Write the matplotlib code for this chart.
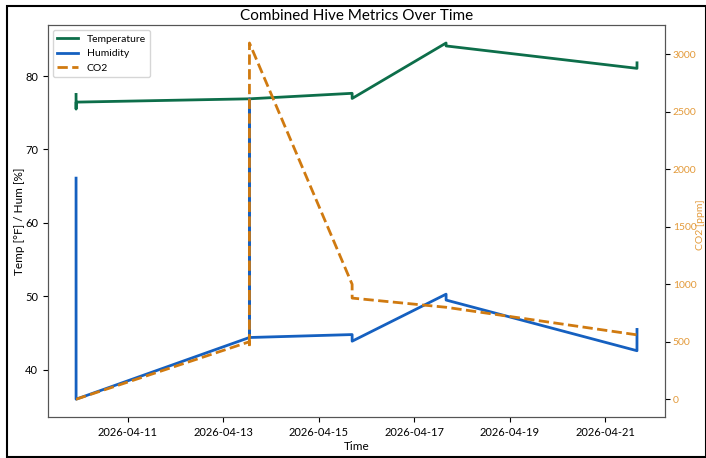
import numpy as np
import pandas as pd
import matplotlib
matplotlib.use("Agg")
import matplotlib.pyplot as plt
from matplotlib.patches import Rectangle

plt.rcParams['font.family'] = ['Lato', 'DejaVu Sans']

# readings (several rows logged within a few minutes of each other)
times = pd.to_datetime([
    "2026-04-09 22:00", "2026-04-09 22:01", "2026-04-09 22:02",
    "2026-04-13 13:10", "2026-04-13 13:11", "2026-04-13 13:12",
    "2026-04-15 16:50", "2026-04-15 16:51",
    "2026-04-17 16:05", "2026-04-17 16:06",
    "2026-04-21 16:05", "2026-04-21 16:06",
])
temperature = [77.5, 75.5, 76.45, 76.9, 76.9, 76.9, 77.65, 76.95, 84.5, 84.1, 81.05, 81.8]
humidity = [66.1, 36.0, 36.0, 44.4, 76.9, 44.4, 44.8, 43.9, 50.3, 49.5, 42.6, 45.5]
co2 = [0, 0, 0, 500, 450, 3100, 1000, 880, 800, 800, 560, 560]
date_ticks = ["2026-04-11", "2026-04-13", "2026-04-15", "2026-04-17", "2026-04-19", "2026-04-21"]

c_temp = "#0d6e4a"
c_hum = "#1560c0"
c_co2 = "#d07a10"
c_co2_txt = "#e39a3a"

fig = plt.figure(figsize=(7.06, 4.58), dpi=100)
ax = fig.add_axes([0.068, 0.0895, 0.874, 0.8555])
ax2 = ax.twinx()

l1, = ax.plot(times, temperature, color=c_temp, lw=2, label="Temperature")
l2, = ax.plot(times, humidity, color=c_hum, lw=2, label="Humidity")
l3, = ax2.plot(times, co2, color=c_co2, lw=2, ls="--", label="CO2")

ax.set_xticks(pd.to_datetime(date_ticks))
ax.xaxis.set_major_formatter(matplotlib.dates.DateFormatter("%Y-%m-%d"))

ax.set_title("Combined Hive Metrics Over Time", fontsize=11, pad=4)
ax.set_xlabel("Time", fontsize=8.5, labelpad=2)
ax.set_ylabel("Temp [°F] / Hum [%]", fontsize=8.5)
ax.yaxis.set_label_coords(-0.037, 0.5)
# right axis label placed by hand so it sits just inside the frame
fig.text(0.9925, 0.51, "CO2 [ppm]", rotation=90, ha="center", va="center",
         fontsize=7.5, color=c_co2_txt)
ax.tick_params(labelsize=8)
ax2.tick_params(labelsize=7.5, labelcolor=c_co2_txt, pad=2)
for a in (ax, ax2):
    for s in a.spines.values():
        s.set_color("#555555")

ax.legend([l1, l2, l3], ["Temperature", "Humidity", "CO2"], loc="upper left", fontsize=7.5)

fig.patches.append(Rectangle((0.01, 0.003), 0.9895, 0.984, transform=fig.transFigure,
                             fill=False, edgecolor="black", lw=1.5))

fig.savefig("out.png", dpi=100)
